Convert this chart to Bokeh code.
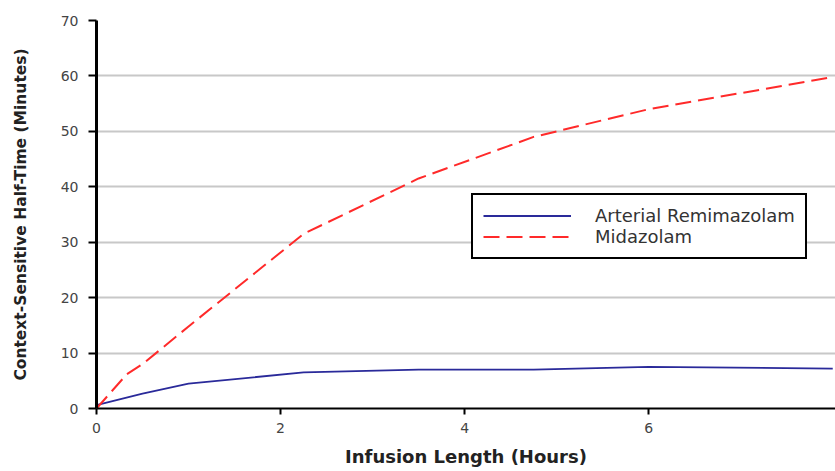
from bokeh.plotting import figure
from bokeh.models import Legend, LegendItem, Range1d, FixedTicker
from bokeh.embed import file_html
from bokeh.resources import INLINE

# Data (hours, minutes)
remi_x = [0, 0.5, 1, 2.25, 3.5, 4.75, 6, 8]
remi_y = [0.6, 2.7, 4.5, 6.5, 7.0, 7.0, 7.5, 7.2]
mida_x = [0, 0.33, 0.5, 1, 2.25, 3.5, 4.75, 6, 8]
mida_y = [0, 6.2, 8.0, 14.8, 31.5, 41.5, 49.0, 54.0, 59.8]

x_ticks = [0, 2, 4, 6]
y_ticks = [0, 10, 20, 30, 40, 50, 60, 70]

p = figure(width=835, height=471, output_backend="svg", toolbar_location=None,
           x_range=Range1d(0, 8.03), y_range=Range1d(0, 70),
           min_border_left=96, min_border_top=20, min_border_right=0, min_border_bottom=63)
p.outline_line_color = None
p.background_fill_color = "white"
p.border_fill_color = "white"

p.xgrid.grid_line_color = None
p.ygrid.grid_line_color = "#c8c8c8"
p.ygrid.grid_line_width = 2
p.ygrid.ticker = FixedTicker(ticks=y_ticks)

for ax in (p.xaxis[0], p.yaxis[0]):
    ax.axis_line_color = "black"
    ax.major_tick_line_color = "black"
    ax.major_tick_line_width = 2
    ax.minor_tick_line_color = None
    ax.major_tick_in = 0
    ax.major_label_text_font = "DejaVu Sans"
    ax.major_label_text_font_size = "14px"
    ax.major_label_text_color = "#444444"
    ax.axis_label_text_font = "DejaVu Sans"
    ax.axis_label_text_font_style = "bold"
    ax.axis_label_text_color = "#222222"

p.xaxis[0].ticker = FixedTicker(ticks=x_ticks)
p.xaxis[0].axis_line_width = 2
p.xaxis[0].major_tick_out = 6
p.xaxis[0].major_label_standoff = 8
p.xaxis[0].axis_label = "Infusion Length (Hours)"
p.xaxis[0].axis_label_text_font_size = "18px"
p.xaxis[0].axis_label_standoff = 10

p.yaxis[0].ticker = FixedTicker(ticks=y_ticks)
p.yaxis[0].axis_line_width = 3
p.yaxis[0].major_tick_out = 8
p.yaxis[0].major_label_standoff = 10
p.yaxis[0].axis_label = "Context-Sensitive Half-Time (Minutes)"
p.yaxis[0].axis_label_text_font_size = "15.5px"
p.yaxis[0].axis_label_standoff = 28

r1 = p.line(remi_x, remi_y, line_color="#2a2a9a", line_width=1.8)
r2 = p.line(mida_x, mida_y, line_color="#ff2a2a", line_width=2, line_dash="16 7")

legend = Legend(items=[LegendItem(label="Arterial Remimazolam", renderers=[r1]),
                       LegendItem(label="Midazolam", renderers=[r2])],
                location=(375, 149))
legend.border_line_color = "black"
legend.border_line_alpha = 1
legend.border_line_width = 2
legend.background_fill_color = "white"
legend.background_fill_alpha = 1
legend.label_text_font = "DejaVu Sans"
legend.label_text_font_size = "18px"
legend.label_text_color = "#333333"
legend.glyph_width = 88
legend.glyph_height = 19
legend.label_height = 19
legend.label_standoff = 24
legend.spacing = 0
legend.padding = 10
legend.margin = 0
p.add_layout(legend)

open("out.html", "w").write(file_html(p, INLINE))
